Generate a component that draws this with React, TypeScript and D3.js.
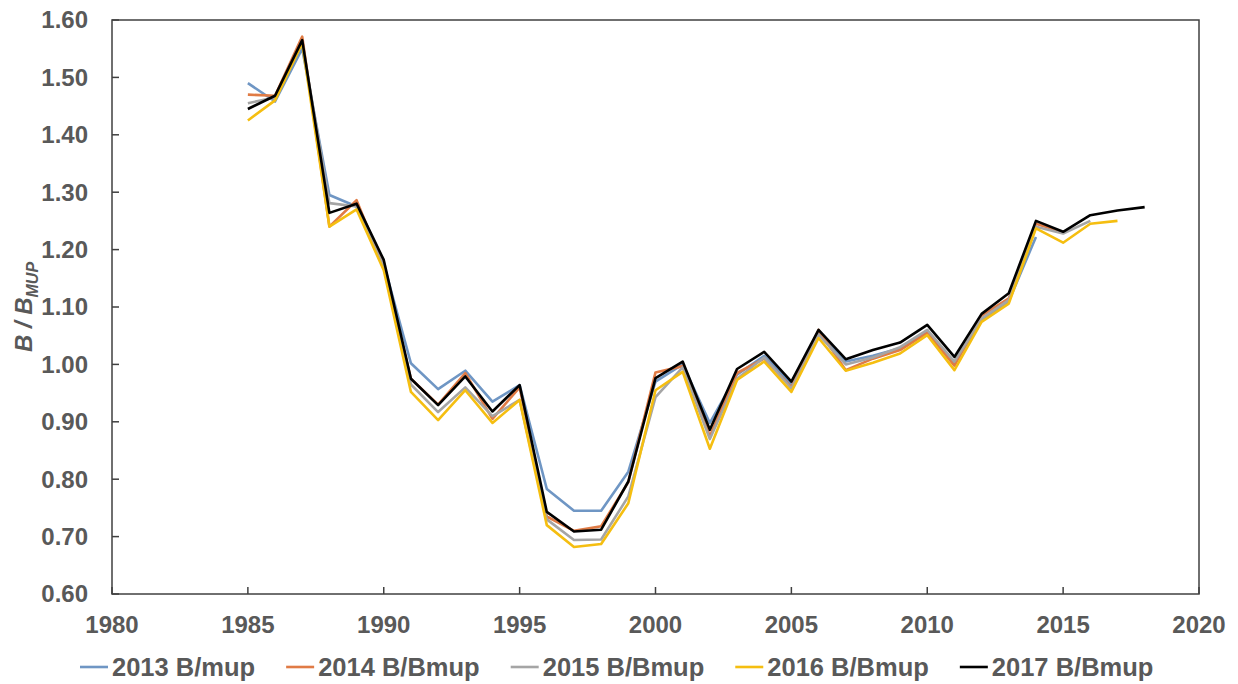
import React, { useEffect, useRef } from "react";
import * as d3 from "d3";

const startYear = 1985;
const s2013 = [1.49,1.458,1.55,1.295,1.275,1.175,1.002,0.957,0.989,0.935,0.964,0.783,0.745,0.745,0.813,0.97,1.0,0.898,0.982,1.015,0.965,1.055,1.005,1.015,1.028,1.058,1.0,1.078,1.11,1.222];
const s2014 = [1.47,1.468,1.571,1.24,1.286,1.17,0.975,0.93,0.985,0.905,0.96,0.735,0.71,0.718,0.795,0.986,0.997,0.875,0.985,1.01,0.96,1.06,0.99,1.01,1.025,1.055,0.998,1.085,1.115,1.245,1.23];
const s2015 = [1.455,1.465,1.56,1.281,1.275,1.17,0.965,0.917,0.96,0.91,0.938,0.73,0.694,0.695,0.77,0.943,0.995,0.87,0.975,1.012,0.958,1.052,1.0,1.012,1.03,1.06,1.005,1.08,1.112,1.24,1.228,1.25];
const s2016 = [1.425,1.46,1.56,1.24,1.27,1.164,0.952,0.903,0.955,0.898,0.938,0.72,0.682,0.687,0.758,0.955,0.987,0.853,0.973,1.005,0.952,1.046,0.989,1.003,1.019,1.051,0.99,1.074,1.106,1.237,1.212,1.245,1.25];
const s2017 = [1.445,1.468,1.565,1.264,1.28,1.182,0.975,0.929,0.979,0.918,0.964,0.743,0.709,0.712,0.796,0.976,1.005,0.886,0.992,1.022,0.97,1.06,1.009,1.025,1.038,1.069,1.013,1.088,1.124,1.25,1.231,1.26,1.268,1.274];

const seriesNames = ["2013 B/mup", "2014 B/Bmup", "2015 B/Bmup", "2016 B/Bmup", "2017 B/Bmup"];
const seriesValues = [s2013, s2014, s2015, s2016, s2017];
const seriesColors = ["#6f96c4", "#e07b45", "#a5a5a5", "#f5be10", "#000000"];

const xTicks = [1980, 1985, 1990, 1995, 2000, 2005, 2010, 2015, 2020];
const yTicks = [0.6, 0.7, 0.8, 0.9, 1.0, 1.1, 1.2, 1.3, 1.4, 1.5, 1.6];

const W = 1238, H = 684;
const M = { left: 112, right: 1199, top: 20, bottom: 594 };
const FONT = "'Liberation Sans', Arial, sans-serif";
const TEXT = "#595959";

export default function App() {
  const ref = useRef<SVGSVGElement | null>(null);
  useEffect(() => {
    const svg = d3.select(ref.current);
    svg.selectAll("*").remove();
    const x = d3.scaleLinear().domain([1980, 2020]).range([M.left, M.right]);
    const y = d3.scaleLinear().domain([0.6, 1.6]).range([M.bottom, M.top]);

    // frame
    svg.append("rect").attr("x", M.left).attr("y", M.top)
      .attr("width", M.right - M.left).attr("height", M.bottom - M.top)
      .attr("fill", "none").attr("stroke", "#404040").attr("stroke-width", 1.5);

    // y ticks
    const gy = svg.append("g");
    yTicks.forEach((t) => {
      gy.append("line").attr("x1", M.left).attr("x2", M.left + 7)
        .attr("y1", y(t)).attr("y2", y(t)).attr("stroke", "#404040").attr("stroke-width", 1.5);
      gy.append("text").attr("x", 88).attr("y", y(t)).attr("dy", "0.35em")
        .attr("text-anchor", "end").attr("font-family", FONT).attr("font-weight", "bold")
        .attr("font-size", 24).attr("fill", TEXT).text(d3.format(".2f")(t));
    });
    // x ticks
    const gx = svg.append("g");
    xTicks.forEach((t) => {
      gx.append("line").attr("x1", x(t)).attr("x2", x(t))
        .attr("y1", M.bottom).attr("y2", M.bottom - 7).attr("stroke", "#404040").attr("stroke-width", 1.5);
      gx.append("text").attr("x", x(t)).attr("y", 633)
        .attr("text-anchor", "middle").attr("font-family", FONT).attr("font-weight", "bold")
        .attr("font-size", 24).attr("fill", TEXT).text(String(t));
    });

    // y axis title
    const title = svg.append("text")
      .attr("transform", `translate(32, ${(M.top + M.bottom) / 2}) rotate(-90)`)
      .attr("text-anchor", "middle").attr("font-family", FONT).attr("font-weight", "bold")
      .attr("font-style", "italic").attr("font-size", 24).attr("fill", TEXT);
    title.append("tspan").text("B / B");
    title.append("tspan").attr("font-size", 16).attr("dy", 6).text("MUP");

    // lines
    const line = d3.line<number>()
      .x((_, i) => x(startYear + i))
      .y((d) => y(d));
    seriesValues.forEach((vals, k) => {
      svg.append("path").datum(vals).attr("d", line as any)
        .attr("fill", "none").attr("stroke", seriesColors[k])
        .attr("stroke-width", 2.6).attr("stroke-linejoin", "round");
    });

    // legend
    const lg = svg.append("g");
    let cx = 80;
    const ly = 667;
    seriesNames.forEach((name, k) => {
      lg.append("line").attr("x1", cx).attr("x2", cx + 28).attr("y1", ly).attr("y2", ly)
        .attr("stroke", seriesColors[k]).attr("stroke-width", 2.6);
      const t = lg.append("text").attr("x", cx + 32).attr("y", ly).attr("dy", "0.35em")
        .attr("font-family", FONT).attr("font-weight", "bold").attr("font-size", 25.5)
        .attr("fill", TEXT).text(name);
      const w = (t.node() as SVGTextElement).getComputedTextLength();
      cx = cx + 32 + w + 31;
    });
  }, []);
  return (
    <svg ref={ref} width={W} height={H}
      style={{ position: "absolute", left: 0, top: 0, background: "#fff" }} />
  );
}
